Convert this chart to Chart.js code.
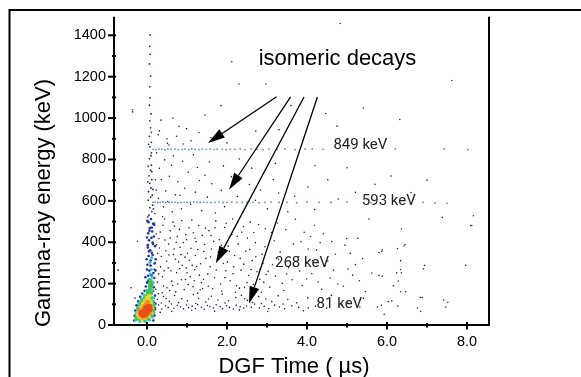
<!DOCTYPE html>
<html><head><meta charset="utf-8">
<script src="https://cdn.jsdelivr.net/npm/chart.js@4"></script>
<style>html,body{margin:0;padding:0;background:#fff;}canvas{display:block}</style>
</head><body>
<canvas id="c" width="581" height="377"></canvas>
<script>
// ---- axes / labels ----
const xTicksMajor = [0, 2, 4, 6, 8];
const xTicksMinor = [1, 3, 5, 7];
const yTicksMajor = [0, 200, 400, 600, 800, 1000, 1200, 1400];
const yTicksMinor = [100, 300, 500, 700, 900, 1100, 1300];
const xRange = [-0.825, 8.55];
const yRange = [0, 1490];
const xTitle = 'DGF Time ( µs)';
const yTitle = 'Gamma-ray energy (keV)';
const annotationTitle = 'isomeric decays';
const lineLabels = ['849 keV', '593 keV', '268 keV', '81 keV'];
const lineLabelAt = [[4.66, 851], [5.37, 582], [3.2, 279], [4.24, 80]];
const arrowFrom = [[3.24, 1103], [3.59, 1103], [3.925, 1102], [4.26, 1102]];
const arrowTo = [[1.525, 880], [2.05, 654], [1.72, 299], [2.55, 104]];

// ---- data (time in µs, energy in keV) ----
const hotCore = [[-0.08,55],[-0.04,62],[0.0,58],[-0.06,70],[-0.02,75],[0.02,68],[-0.1,48],[0.03,80],[-0.05,50],[0.0,88],[-0.15,60],[0.08,75],[0.06,90],[-0.12,52],[-0.03,83]];
const hotOrange = [[-0.14,45],[-0.12,66],[-0.1,78],[-0.07,88],[-0.03,95],[0.02,100],[0.07,92],[0.09,72],[0.06,57],[-0.02,42],[-0.09,38],[0.01,110],[-0.17,52],[0.1,85],[-0.16,70]];
const hotYellow = [[-0.19,40],[-0.19,62],[-0.14,84],[-0.09,102],[-0.04,114],[0.03,122],[0.09,108],[0.12,82],[0.1,60],[0.04,44],[-0.05,34],[-0.22,50],[-0.12,30],[0.0,130],[0.06,140]];
const hotGreen = [[-0.25,30],[-0.23,46],[-0.21,66],[-0.18,90],[-0.12,115],[-0.06,130],[0.0,140],[0.05,148],[0.1,132],[0.14,112],[0.15,90],[0.14,64],[0.11,46],[0.03,30],[-0.08,25],[-0.17,28],[-0.27,38],[0.05,165],[0.08,178],[0.07,198],[0.11,155],[0.09,214],[-0.14,102],[-0.2,76],[0.16,72],[0.02,155],[0.12,190]];
const hotCyan = [[-0.29,24],[-0.27,56],[-0.24,82],[-0.2,106],[-0.14,126],[-0.08,146],[0.0,168],[0.06,186],[0.14,168],[0.17,130],[0.18,98],[0.17,60],[0.14,38],[0.07,23],[-0.04,18],[-0.18,17],[0.08,247],[0.11,268],[0.05,221],[0.13,232],[0.07,303],[0.12,326],[0.15,205]];
const bandLower = [[-0.32,22],[-0.31,45],[-0.29,70],[-0.26,95],[-0.22,115],[-0.17,136],[-0.12,152],[-0.06,165],[-0.03,186],[0.0,205],[0.2,142],[0.21,102],[0.2,76],[0.19,46],[0.16,22],[0.03,238],[0.06,263],[0.01,291],[0.09,312],[0.04,333],[0.12,349],[0.08,361],[0.02,374],[0.15,392],[0.05,409],[0.11,421],[0.03,443],[0.13,452],[0.07,468],[0.18,484],[0.04,497],[0.1,512],[0.16,251],[0.19,297],[0.14,338],[0.2,381],[0.17,428],[0.0,268],[-0.01,318],[0.02,386],[0.18,227],[0.21,264],[0.17,182],[-0.04,231],[0.0,423],[0.01,503],[0.15,489],[0.12,204],[0.03,213],[0.14,399],[0.06,456],[0.12,471],[0.09,287],[0.22,318],[0.05,356],[0.11,241]];
const bandUpper = [[0.05,531],[0.12,548],[0.07,567],[0.14,579],[0.03,603],[0.09,618],[0.13,627],[0.04,644],[0.1,662],[0.07,684],[0.12,703],[0.05,721],[0.09,748],[0.11,772],[0.06,803],[0.1,818],[0.07,861],[0.11,883],[0.06,912],[0.09,953],[0.07,987],[0.1,1021],[0.06,1062],[0.08,1098],[0.07,1151],[0.09,1203],[0.06,1262],[0.08,1308],[0.07,1347],[0.08,1402],[0.02,692],[0.12,741],[0.03,768],[0.11,832],[0.04,873],[0.11,931],[0.16,561],[0.02,523],[0.15,655]];
const scatterLow = [[0.21,84],[0.29,97],[0.37,77],[0.46,92],[0.53,85],[0.61,101],[0.67,81],[0.76,94],[0.84,87],[0.91,78],[0.99,97],[1.04,84],[1.13,91],[1.21,80],[1.27,99],[1.36,86],[1.43,76],[1.51,94],[1.57,88],[1.66,82],[1.73,98],[1.83,89],[1.89,79],[1.99,93],[2.06,85],[2.16,77],[2.23,96],[2.33,88],[2.42,82],[2.49,92],[2.61,85],[2.69,101],[2.81,83],[2.93,90],[3.04,80],[3.19,96],[3.31,87],[3.44,78],[3.62,93],[3.79,85],[4.03,83],[4.21,91],[4.49,81],[4.88,97],[5.32,87],[6.27,92],[0.26,123],[0.41,138],[0.56,114],[0.69,142],[0.87,127],[1.01,117],[1.16,147],[1.29,129],[1.47,111],[1.61,139],[1.77,121],[1.88,149],[2.04,117],[2.22,133],[2.36,143],[2.51,119],[2.64,109],[2.79,137],[2.97,126],[3.12,113],[3.28,141],[3.52,123],[3.74,107],[4.02,131],[4.28,116],[4.61,143],[5.02,111],[5.41,129],[6.12,117],[6.88,133],[7.42,121],[0.33,61],[0.62,66],[1.12,71],[1.69,67],[2.31,73],[3.02,65],[3.91,69],[0.19,109],[0.28,151],[0.36,106],[0.48,128],[0.79,108],[1.22,104],[1.54,126],[1.95,106],[2.44,127],[2.86,104],[3.4,101]];
const scatterNear = [[0.17,163],[0.41,188],[0.93,171],[1.27,154],[0.62,212],[0.29,247],[1.08,233],[0.77,198],[1.41,221],[0.53,276],[0.21,302],[0.88,289],[1.19,267],[0.36,331],[0.71,318],[1.34,296],[0.47,359],[1.01,347],[0.24,388],[0.83,376],[1.23,402],[0.58,421],[0.33,449],[0.97,437],[1.46,468],[0.69,478],[0.19,493],[1.12,507],[0.44,512],[0.81,462],[0.26,207],[0.57,167],[1.15,185],[1.39,176],[0.74,253],[0.98,276],[0.39,233],[1.31,241],[0.49,308],[1.06,313],[0.66,341],[1.21,336],[0.31,372],[0.91,398],[1.44,389],[0.54,391],[1.16,446],[0.76,427],[0.4,482],[1.29,481],[0.22,173],[0.64,191],[0.86,219],[1.03,196],[1.36,205],[0.34,281],[0.6,262],[0.79,305],[1.24,283],[1.47,322],[0.27,347],[0.95,328],[1.1,371],[0.45,411],[0.68,367],[1.38,433],[0.87,505],[0.58,455],[1.2,419],[0.3,418],[0.5,180],[0.72,160],[1.0,252],[1.18,214],[0.43,262],[0.85,340],[0.23,440],[1.42,355],[0.65,497],[1.05,470],[0.96,220],[0.38,156],[1.33,170],[0.82,272],[0.18,270],[1.27,365],[0.55,338],[0.73,400],[1.13,288],[0.99,412]];
const scatterMid = [[1.53,187],[1.87,163],[2.31,178],[2.77,169],[1.69,228],[2.08,214],[2.54,239],[2.92,207],[1.58,281],[1.97,262],[2.42,294],[2.83,271],[1.76,318],[2.19,336],[2.63,311],[1.61,367],[2.03,381],[2.47,356],[2.88,342],[1.81,412],[2.26,429],[2.71,398],[1.55,456],[1.94,471],[2.37,448],[2.79,486],[1.72,503],[2.14,512],[2.58,497],[1.64,175],[2.21,158],[2.66,196],[2.98,244],[1.91,297],[2.35,265],[2.72,330],[1.67,404],[2.12,437],[2.51,420],[2.95,378],[1.84,198],[2.44,182],[2.86,158],[1.52,247],[2.01,305],[2.6,268],[1.78,352],[2.28,392],[2.67,447],[1.98,492],[2.41,476],[1.59,329],[2.17,281],[2.9,298],[1.73,266],[2.5,205],[2.06,356],[2.82,221],[1.95,229],[2.33,322],[1.6,432],[2.75,257],[2.24,190],[1.86,385],[2.57,365],[2.96,465],[2.15,248],[1.7,470]];
const scatterFar = [[3.07,183],[3.42,167],[3.88,191],[4.37,172],[4.91,187],[5.46,162],[3.21,236],[3.63,219],[4.12,248],[4.58,227],[5.14,241],[3.14,291],[3.54,277],[3.97,304],[4.46,286],[5.03,271],[3.33,352],[3.79,331],[4.24,363],[4.71,342],[3.18,407],[3.66,392],[4.09,428],[4.62,403],[5.27,419],[3.47,461],[3.93,448],[4.41,441],[4.99,418],[4.95,386],[5.55,512],[3.26,493],[3.71,511],[4.19,482],[3.03,259],[3.38,201],[3.82,261],[4.28,208],[4.77,198],[5.31,214],[3.58,327],[4.03,367],[4.52,309],[5.21,292],[3.11,447],[3.85,402],[4.33,398],[5.08,346],[5.62,251],[3.49,246],[3.99,222],[4.66,265],[3.29,318],[4.14,312],[5.39,321],[5.76,87],[5.93,52],[6.76,82],[6.84,66],[7.47,87],[7.52,110],[6.83,134],[6.03,113],[5.86,95],[6.34,161],[6.47,161],[6.16,189],[6.28,213],[6.34,268],[6.36,252],[6.24,252],[5.88,236],[5.8,240],[6.94,288],[6.91,272],[7.97,288],[5.8,350],[5.88,363],[6.26,369],[6.43,382],[6.34,311],[6.36,464],[8.09,481],[7.38,520],[8.16,528],[8.12,481],[6.45,389],[5.87,355]];
const scatterHigh = [[0.2,538],[0.29,612],[0.36,703],[0.31,757],[0.41,571],[0.47,648],[0.56,719],[0.63,547],[0.71,629],[0.77,692],[0.86,562],[0.94,661],[1.03,738],[1.09,583],[1.21,642],[1.31,698],[1.37,553],[1.51,618],[1.62,683],[1.71,541],[1.86,651],[1.94,572],[2.11,717],[2.26,621],[2.39,546],[2.56,679],[2.71,603],[2.84,652],[3.01,561],[3.16,703],[3.29,638],[3.52,547],[3.69,622],[4.02,667],[4.19,558],[4.52,702],[4.78,609],[5.21,641],[0.44,798],[0.61,772],[0.89,791],[1.26,761],[1.56,788],[0.24,832],[0.51,878],[0.74,912],[0.99,949],[0.31,938],[0.21,702],[0.39,523],[0.66,818],[1.16,822],[1.91,769],[2.31,802],[2.62,758],[3.21,781],[0.23,652],[0.52,597],[0.83,627],[1.45,724],[-0.24,405],[-0.72,265],[-0.4,180],[-0.3,130]];
const sparseTop = [[-0.36,1040],[-0.36,1030],[2.12,1272],[2.3,1165],[2.97,1165],[1.45,1015],[2.72,937],[3.3,944],[4.83,1457],[7.62,1182],[4.47,1022],[6.32,993],[4.75,961],[5.41,1049],[0.5,900],[0.8,960],[1.1,890],[0.35,990],[1.6,905],[1.3,930],[2.0,880],[0.65,1000],[0.28,920],[0.55,870],[0.9,875],[1.85,1060],[3.6,1060],[5.0,760],[6.1,720],[5.7,680],[4.2,770],[7.0,700],[6.6,640]];
const line849 = [[0.15,849],[0.22,848],[0.3,850],[0.37,849],[0.45,847],[0.52,850],[0.6,849],[0.7,851],[0.78,848],[0.88,849],[0.95,850],[1.05,848],[1.12,851],[1.2,849],[1.3,848],[1.38,850],[1.48,849],[1.58,851],[1.68,848],[1.75,850],[1.88,849],[1.98,847],[2.08,850],[2.2,849],[2.33,851],[2.45,848],[2.6,850],[2.75,849],[2.9,848],[3.05,850],[3.25,849],[3.45,851],[3.7,848],[3.95,850],[4.13,851],[4.4,849],[6.21,851],[7.43,851],[8.02,847]];
const line593 = [[0.15,593],[0.2,594],[0.27,592],[0.33,593],[0.4,595],[0.47,593],[0.55,592],[0.62,594],[0.7,593],[0.77,591],[0.85,593],[0.93,594],[1.0,592],[1.08,593],[1.17,595],[1.25,593],[1.33,592],[1.42,594],[1.5,593],[1.6,591],[1.7,593],[1.8,594],[1.9,592],[2.0,593],[2.12,595],[2.25,593],[2.38,592],[2.5,594],[2.65,593],[2.8,591],[2.95,593],[3.1,594],[3.3,592],[3.5,593],[3.74,591],[4.0,595],[4.3,593],[4.6,592],[5.0,594],[5.6,591],[6.9,593],[7.2,590],[7.5,588]];

const toPts = arr => arr.map(p => ({x: p[0], y: p[1]}));
const FONT = "'Liberation Sans', Arial, sans-serif";

function ds(label, arr, color, r) {
  return {label, data: toPts(arr), backgroundColor: color, borderWidth: 0, pointRadius: r, pointStyle: 'circle'};
}

const decor = {
  id: 'decor',
  afterDraw(chart) {
    const {ctx, chartArea: a, scales: {x, y}} = chart;
    ctx.save();
    ctx.strokeStyle = '#000';
    ctx.fillStyle = '#000';
    ctx.lineWidth = 2;
    ctx.beginPath(); ctx.moveTo(9.5, 377); ctx.lineTo(9.5, 10); ctx.lineTo(581, 10); ctx.stroke();
    ctx.beginPath(); ctx.moveTo(a.left, a.top); ctx.lineTo(a.left, a.bottom); ctx.lineTo(a.right, a.bottom); ctx.lineTo(a.right, a.top); ctx.stroke();
    yTicksMajor.forEach(v => { const p = y.getPixelForValue(v); ctx.beginPath(); ctx.moveTo(a.left - 6, p); ctx.lineTo(a.left + 2, p); ctx.stroke(); });
    yTicksMinor.forEach(v => { const p = y.getPixelForValue(v); ctx.beginPath(); ctx.moveTo(a.left - 2, p); ctx.lineTo(a.left + 2, p); ctx.stroke(); });
    xTicksMajor.forEach(v => { const p = x.getPixelForValue(v); ctx.beginPath(); ctx.moveTo(p, a.bottom - 3); ctx.lineTo(p, a.bottom + 4.5); ctx.stroke(); });
    xTicksMinor.forEach(v => { const p = x.getPixelForValue(v); ctx.beginPath(); ctx.moveTo(p, a.bottom - 2); ctx.lineTo(p, a.bottom + 2.5); ctx.stroke(); });
    ctx.font = '22px ' + FONT;
    ctx.textAlign = 'center'; ctx.textBaseline = 'alphabetic';
    ctx.fillText(xTitle, 294, 372.5);
    ctx.save(); ctx.translate(49.5, 203); ctx.rotate(-Math.PI / 2); ctx.fillText(yTitle, 0, 0); ctx.restore();
    ctx.fillText(annotationTitle, 337.5, 65);
    ctx.lineWidth = 1.3;
    arrowFrom.forEach((s, i) => {
      const x0 = x.getPixelForValue(s[0]), y0 = y.getPixelForValue(s[1]);
      const x1 = x.getPixelForValue(arrowTo[i][0]), y1 = y.getPixelForValue(arrowTo[i][1]);
      const ang = Math.atan2(y1 - y0, x1 - x0);
      const L = 17, W = 5;
      const bx = x1 - L * Math.cos(ang), by = y1 - L * Math.sin(ang);
      ctx.beginPath(); ctx.moveTo(x0, y0); ctx.lineTo(bx, by); ctx.stroke();
      ctx.beginPath(); ctx.moveTo(x1, y1);
      ctx.lineTo(bx + W * Math.sin(ang), by - W * Math.cos(ang));
      ctx.lineTo(bx - W * Math.sin(ang), by + W * Math.cos(ang));
      ctx.closePath(); ctx.fill();
    });
    ctx.font = "15px Roboto, sans-serif";
    ctx.fillStyle = '#222';
    ctx.textAlign = 'left';
    lineLabels.forEach((t, i) => ctx.fillText(t, x.getPixelForValue(lineLabelAt[i][0]), y.getPixelForValue(lineLabelAt[i][1])));
    ctx.restore();
  }
};

new Chart(document.getElementById('c'), {
  type: 'scatter',
  data: {
    datasets: [
      ds('core', hotCore, '#e4501c', 2.6),
      ds('orange', hotOrange, '#f0902a', 2.5),
      ds('yellow', hotYellow, '#e6d830', 2.4),
      ds('green', hotGreen, '#46c24a', 2.1),
      ds('cyan', hotCyan, '#34c2d8', 1.6),
      ds('bandLower', bandLower, '#1f3499', 1.3),
      ds('bandUpper', bandUpper, '#222a66', 0.9),
      ds('line849', line849, '#6a8ab0', 0.9),
      ds('line593', line593, '#6a8ab0', 0.9),
      ds('low', scatterLow, '#1c2152', 0.8),
      ds('near', scatterNear, '#1c2152', 0.8),
      ds('mid', scatterMid, '#1c2152', 0.8),
      ds('far', scatterFar, '#2a2e55', 0.8),
      ds('high', scatterHigh, '#1c2152', 0.8),
      ds('top', sparseTop, '#2a2e55', 0.8)
    ]
  },
  options: {
    responsive: false,
    animation: false,
    layout: {padding: {left: 0, top: 10, right: 92, bottom: 0}},
    plugins: {legend: {display: false}, tooltip: {enabled: false}},
    scales: {
      x: {
        type: 'linear', min: xRange[0], max: xRange[1],
        grid: {display: false, drawTicks: false}, border: {display: false},
        afterFit: s => { s.height = 52; },
        afterBuildTicks: s => { s.ticks = xTicksMajor.map(v => ({value: v})); },
        ticks: {autoSkip: false, maxRotation: 0, padding: 8, color: '#000', font: {family: FONT, size: 14.5}, callback: v => Number(v).toFixed(1)}
      },
      y: {
        type: 'linear', min: yRange[0], max: yRange[1],
        grid: {display: false, drawTicks: false}, border: {display: false},
        afterFit: s => { s.width = 114; },
        afterBuildTicks: s => { s.ticks = yTicksMajor.map(v => ({value: v})); },
        ticks: {autoSkip: false, padding: 8, color: '#000', font: {family: FONT, size: 14.5}, callback: v => String(v)}
      }
    }
  },
  plugins: [decor]
});
</script>
</body></html>
